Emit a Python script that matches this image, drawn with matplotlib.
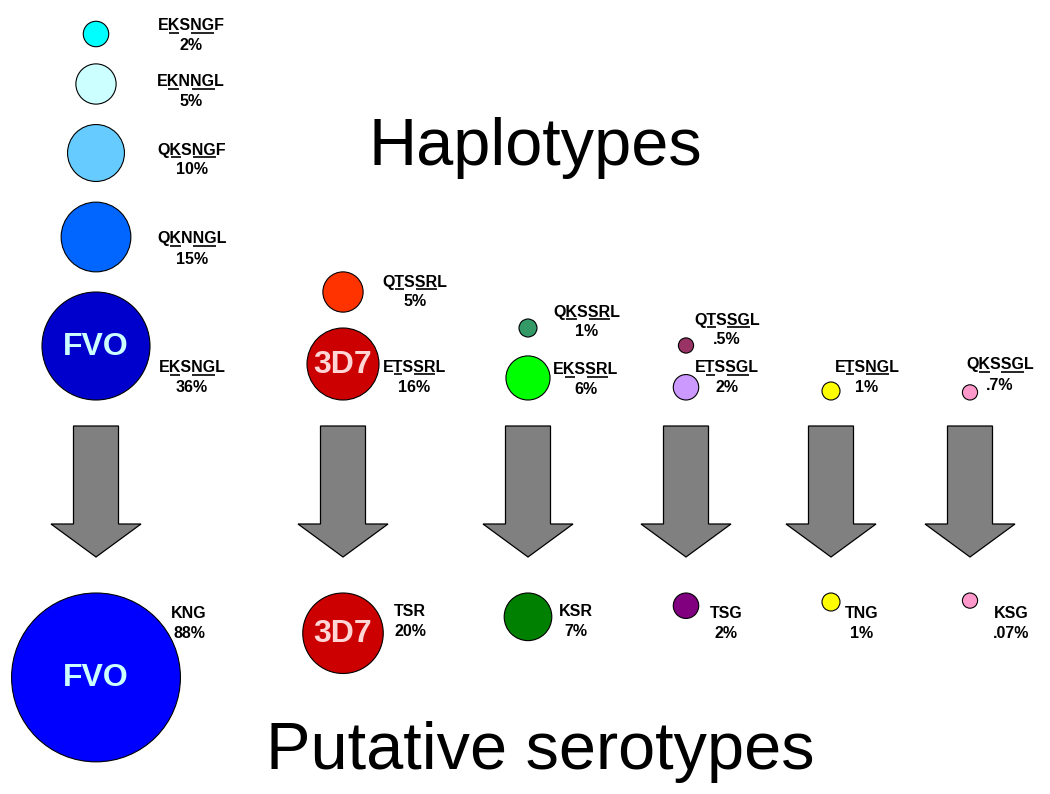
import numpy as np
import matplotlib
matplotlib.use("Agg")
import matplotlib.pyplot as plt
from matplotlib.patches import Circle, Polygon

plt.rcParams['font.family'] = ['Liberation Sans', 'DejaVu Sans']

# haplotypes (top half)
hap_seq = ["EKSNGF", "EKNNGL", "QKSNGF", "QKNNGL", "EKSNGL",
           "QTSSRL", "ETSSRL", "QKSSRL", "EKSSRL",
           "QTSSGL", "ETSSGL", "ETSNGL", "QKSSGL"]
hap_pct = [2, 5, 10, 15, 36, 5, 16, 1, 6, 0.5, 2, 1, 0.7]
hap_pct_lbl = ["2%", "5%", "10%", "15%", "36%", "5%", "16%", "1%", "6%",
               ".5%", "2%", "1%", ".7%"]
hap_name = ["", "", "", "", "FVO", "", "3D7", "", "", "", "", "", ""]

# putative serotypes (bottom half)
sero_seq = ["KNG", "TSR", "KSR", "TSG", "TNG", "KSG"]
sero_pct = [88, 20, 7, 2, 1, 0.07]
sero_pct_lbl = ["88%", "20%", "7%", "2%", "1%", ".07%"]
sero_name = ["FVO", "3D7", "", "", "", ""]

# styling / layout
hap_colors = ["#00FFFF", "#CCFFFF", "#66CCFF", "#0066FF", "#0000CC",
              "#FF3300", "#CC0000", "#339966", "#00FF00",
              "#993366", "#CC99FF", "#FFFF00", "#FF99CC"]
sero_colors = ["#0000FF", "#CC0000", "#008000", "#800080", "#FFFF00", "#FF99CC"]
name_colors = {"FVO": "#CCFFFF", "3D7": "#FFD5D5"}

col_x = [96, 343, 528, 686, 831, 970]
hap_col = [0, 0, 0, 0, 0, 1, 1, 2, 2, 3, 3, 4, 5]
hap_cy = [34, 84, 153, 237, None, 292, None, 328, None, 345.5, None, None, None]
hap_lbl_xy = [(191, 25), (191, 81), (192, 149), (192, 238), (192, 367),
              (415, 281), (414, 366), (587, 311), (586, 369),
              (727, 319), (727, 367), (867, 366), (1000, 364)]
sero_lbl_xy = [(189, 612), (410, 611), (576, 611), (726, 612), (862, 612), (1011, 612)]
underline_spans = [(1, 2), (3, 5)]

K = 9.0        # radius per sqrt(percent), in pixels
R_MIN = 7.6
LBL_FS = 11.5

fig = plt.figure(figsize=(10.5, 7.94), dpi=100)
ax = fig.add_axes([0, 0, 1, 1])
ax.set_xlim(0, 1050)
ax.set_ylim(794, 0)
ax.set_aspect('equal')
ax.axis('off')


def radius(p):
    return max(K * np.sqrt(p), R_MIN)


def circle(x, y, r, color, name):
    ax.add_patch(Circle((x, y), r, facecolor=color, edgecolor='black', lw=0.8, zorder=2))
    if name:
        ax.text(x, y + 1, name, ha='center', va='center', fontsize=23,
                fontweight='bold', color=name_colors[name], zorder=3)


label_texts = []


def label(x, y, seq, pct, spans):
    t = ax.text(x, y + 5.5, seq, ha='center', va='baseline', fontsize=LBL_FS,
                fontweight='bold', color='black')
    ax.text(x, y + 25.5, pct, ha='center', va='baseline', fontsize=LBL_FS,
            fontweight='bold', color='black')
    label_texts.append((t, seq, y + 5.5, spans))


# haplotype circles
for i in range(len(hap_seq)):
    r = radius(hap_pct[i])
    cx = col_x[hap_col[i]]
    cy = hap_cy[i] if hap_cy[i] is not None else 400 - r
    circle(cx, cy, r, hap_colors[i], hap_name[i])
    lx, ly = hap_lbl_xy[i]
    label(lx, ly, hap_seq[i], hap_pct_lbl[i], underline_spans)

# arrows
for cx in col_x:
    pts = [(cx - 22.5, 426), (cx + 22.5, 426), (cx + 22.5, 524), (cx + 45, 524),
           (cx, 557), (cx - 45, 524), (cx - 22.5, 524)]
    ax.add_patch(Polygon(pts, closed=True, facecolor='#808080', edgecolor='black',
                         lw=0.9, joinstyle='miter', zorder=2))

# serotype circles (top aligned)
for i in range(len(sero_seq)):
    r = radius(sero_pct[i])
    circle(col_x[i], 593 + r, r, sero_colors[i], sero_name[i])
    lx, ly = sero_lbl_xy[i]
    label(lx, ly, sero_seq[i], sero_pct_lbl[i], [])

ax.text(535, 165, "Haplotypes", ha='center', va='baseline', fontsize=48, color='black')
ax.text(540, 769, "Putative serotypes", ha='center', va='baseline', fontsize=48, color='black')

# underlines under the variable residues
fig.canvas.draw()
renderer = fig.canvas.get_renderer()
inv = ax.transData.inverted()
for t, seq, base_y, spans in label_texts:
    bb = t.get_window_extent(renderer)
    fp = t.get_fontproperties()
    for a, b in spans:
        xa = bb.x0 + (renderer.get_text_width_height_descent(seq[:a], fp, ismath=False)[0] if a else 0)
        xb = bb.x0 + renderer.get_text_width_height_descent(seq[:b], fp, ismath=False)[0]
        da = inv.transform((xa, 0))[0]
        db = inv.transform((xb, 0))[0]
        ax.plot([da + 0.5, db - 0.5], [base_y + 2.5, base_y + 2.5], color='black', lw=1.2,
                solid_capstyle='butt')

fig.savefig("out.png", dpi=100)
